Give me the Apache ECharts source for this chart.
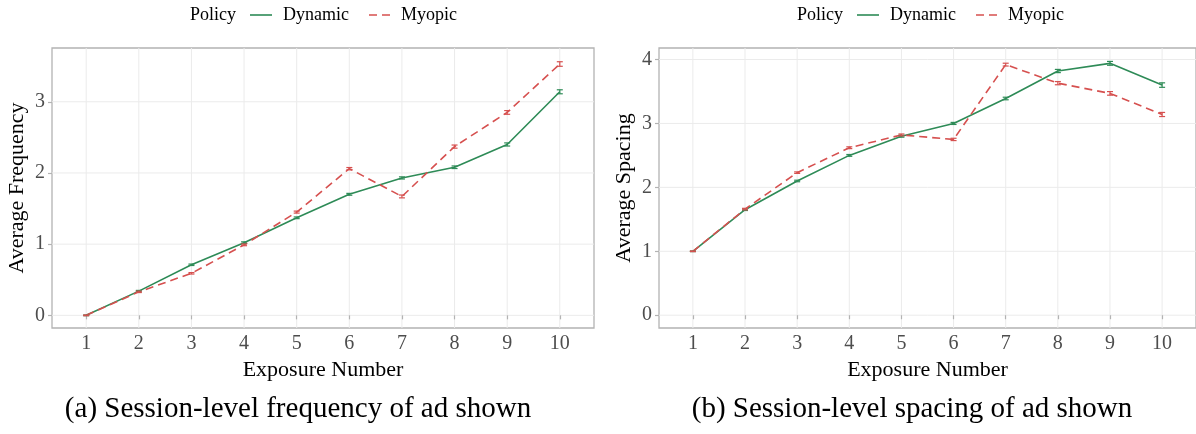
<!DOCTYPE html>
<html><head><meta charset="utf-8">
<script src="https://cdn.jsdelivr.net/npm/echarts@6/dist/echarts.min.js"></script>
<style>html,body{margin:0;padding:0;background:#fff}#c{width:1196px;height:434px}</style>
</head><body><div id="c"></div>
<script>
// ---- data ----
const exposures = [1, 2, 3, 4, 5, 6, 7, 8, 9, 10];
const freqDynamic    = [0, 0.34, 0.71, 1.02, 1.37, 1.70, 1.93, 2.08, 2.40, 3.14];
const freqDynamicErr = [0.005, 0.01, 0.01, 0.012, 0.012, 0.013, 0.015, 0.018, 0.022, 0.028];
const freqMyopic     = [0, 0.33, 0.59, 0.99, 1.45, 2.06, 1.67, 2.37, 2.85, 3.53];
const freqMyopicErr  = [0.005, 0.01, 0.01, 0.012, 0.014, 0.016, 0.02, 0.022, 0.026, 0.032];
const spacDynamic    = [1.0, 1.65, 2.10, 2.50, 2.80, 3.00, 3.39, 3.82, 3.94, 3.60];
const spacDynamicErr = [0.005, 0.012, 0.012, 0.014, 0.015, 0.016, 0.02, 0.025, 0.03, 0.035];
const spacMyopic     = [1.0, 1.66, 2.23, 2.62, 2.82, 2.75, 3.92, 3.63, 3.47, 3.14];
const spacMyopicErr  = [0.005, 0.012, 0.012, 0.014, 0.015, 0.018, 0.022, 0.025, 0.028, 0.032];
const freqTicks = [0, 1, 2, 3];
const spacTicks = [0, 1, 2, 3, 4];
const seriesNames = ['Dynamic', 'Myopic'];
const legendTitle = 'Policy';
const xTitle = 'Exposure Number';
const yTitles = ['Average Frequency', 'Average Spacing'];
const captions = ['(a) Session-level frequency of ad shown', '(b) Session-level spacing of ad shown'];

// ---- style ----
const GREEN = '#2e8b57';
const RED = '#d6504f';
const FONT = 'Liberation Serif';
const GRID_COL = '#ebebeb';
const BORDER_COL = '#b3b3b3';
const DASH = [8, 5];

function errRender(color) {
  return function (params, api) {
    const x = api.value(0), y = api.value(1), e = api.value(2);
    const top = api.coord([x, y + e]);
    const bot = api.coord([x, y - e]);
    const w = 3;
    const style = { stroke: color, lineWidth: 1.2, fill: null };
    return { type: 'group', children: [
      { type: 'line', shape: { x1: top[0], y1: top[1], x2: bot[0], y2: bot[1] }, style: style },
      { type: 'line', shape: { x1: top[0] - w, y1: top[1], x2: top[0] + w, y2: top[1] }, style: style },
      { type: 'line', shape: { x1: bot[0] - w, y1: bot[1], x2: bot[0] + w, y2: bot[1] }, style: style }
    ]};
  };
}
function vGrid(params, api) {
  const cs = params.coordSys;
  const p = api.coord([api.value(0), api.value(1)]);
  return { type: 'line', shape: { x1: p[0], y1: cs.y, x2: p[0], y2: cs.y + cs.height },
           style: { stroke: GRID_COL, lineWidth: 1 } };
}
function hGrid(params, api) {
  const cs = params.coordSys;
  const p = api.coord([api.value(0), api.value(1)]);
  return { type: 'line', shape: { x1: cs.x, y1: p[1], x2: cs.x + cs.width, y2: p[1] },
           style: { stroke: GRID_COL, lineWidth: 1 } };
}

const panels = [
  { dyn: freqDynamic, dynErr: freqDynamicErr, myo: freqMyopic, myoErr: freqMyopicErr, ticks: freqTicks,
    ymin: -0.178, ymax: 3.755 },
  { dyn: spacDynamic, dynErr: spacDynamicErr, myo: spacMyopic, myoErr: spacMyopicErr, ticks: spacTicks,
    ymin: -0.2, ymax: 4.18 }
];

const grids = [
  { left: 52, top: 48, right: 602, bottom: 106, show: true, borderColor: BORDER_COL, borderWidth: 1.3, backgroundColor: '#fff' },
  { left: 659, top: 48, right: -5, bottom: 106, show: true, borderColor: BORDER_COL, borderWidth: 1.3, backgroundColor: '#fff' }
];

const xAxes = [], yAxes = [], series = [];
panels.forEach(function (p, i) {
  xAxes.push({
    type: 'value', gridIndex: i, min: 0.35, max: 10.65,
    name: xTitle, nameLocation: 'middle', nameGap: 26,
    nameTextStyle: { fontFamily: FONT, fontSize: 22, color: '#000' },
    axisLine: { show: false },
    axisTick: { show: true, length: 4, lineStyle: { color: BORDER_COL, width: 1.2 }, customValues: exposures },
    axisLabel: { fontFamily: FONT, fontSize: 20, color: '#4d4d4d', margin: 6, customValues: exposures },
    splitLine: { show: false }
  });
  yAxes.push({
    type: 'value', gridIndex: i, min: p.ymin, max: p.ymax,
    name: yTitles[i], nameLocation: 'middle', nameGap: 24, nameRotate: 90,
    nameTextStyle: { fontFamily: FONT, fontSize: 22, color: '#000' },
    axisLine: { show: false },
    axisTick: { show: true, length: 4, lineStyle: { color: BORDER_COL, width: 1.2 }, customValues: p.ticks },
    axisLabel: { fontFamily: FONT, fontSize: 20, color: '#4d4d4d', margin: 7, customValues: p.ticks },
    splitLine: { show: false }
  });
  series.push({
    type: 'custom', name: 'vgrid' + i, xAxisIndex: i, yAxisIndex: i, silent: true, z: 0,
    renderItem: vGrid, data: exposures.map(function (x) { return [x, 0]; }), clip: false
  });
  series.push({
    type: 'custom', name: 'hgrid' + i, xAxisIndex: i, yAxisIndex: i, silent: true, z: 0,
    renderItem: hGrid, data: p.ticks.map(function (t) { return [1, t]; }), clip: false
  });
  series.push({
    type: 'line', name: seriesNames[0], xAxisIndex: i, yAxisIndex: i, z: 3,
    data: exposures.map(function (x, k) { return [x, p.dyn[k]]; }),
    symbol: 'none', lineStyle: { color: GREEN, width: 1.6 }, itemStyle: { color: GREEN }
  });
  series.push({
    type: 'line', name: seriesNames[1], xAxisIndex: i, yAxisIndex: i, z: 3,
    data: exposures.map(function (x, k) { return [x, p.myo[k]]; }),
    symbol: 'none', lineStyle: { color: RED, width: 1.6, type: DASH }, itemStyle: { color: RED }
  });
  series.push({
    type: 'custom', name: 'errD' + i, xAxisIndex: i, yAxisIndex: i, z: 4, silent: true,
    renderItem: errRender(GREEN), encode: { x: 0, y: 1 },
    data: exposures.map(function (x, k) { return [x, p.dyn[k], p.dynErr[k]]; })
  });
  series.push({
    type: 'custom', name: 'errM' + i, xAxisIndex: i, yAxisIndex: i, z: 4, silent: true,
    renderItem: errRender(RED), encode: { x: 0, y: 1 },
    data: exposures.map(function (x, k) { return [x, p.myo[k], p.myoErr[k]]; })
  });
});

// legend built from graphic elements (text stays real text)
function legendGraphics(x0) {
  const yc = 15;
  const font = '18px ' + FONT;
  return [
    { type: 'text', x: x0, y: yc, style: { text: legendTitle, font: font, fill: '#000', textVerticalAlign: 'middle' } },
    { type: 'line', shape: { x1: x0 + 60, y1: yc, x2: x0 + 82, y2: yc }, style: { stroke: GREEN, lineWidth: 1.6 } },
    { type: 'text', x: x0 + 93, y: yc, style: { text: seriesNames[0], font: font, fill: '#000', textVerticalAlign: 'middle' } },
    { type: 'line', shape: { x1: x0 + 179, y1: yc, x2: x0 + 205, y2: yc }, style: { stroke: RED, lineWidth: 1.6, lineDash: DASH } },
    { type: 'text', x: x0 + 211, y: yc, style: { text: seriesNames[1], font: font, fill: '#000', textVerticalAlign: 'middle' } }
  ];
}

const option = {
  animation: false,
  backgroundColor: '#fff',
  grid: grids,
  xAxis: xAxes,
  yAxis: yAxes,
  graphic: legendGraphics(190).concat(legendGraphics(797)).concat([
    { type: 'text', x: 298, y: 409, style: { text: captions[0], font: '29px ' + FONT, fill: '#000', textAlign: 'center', textVerticalAlign: 'middle' } },
    { type: 'text', x: 912, y: 409, style: { text: captions[1], font: '29px ' + FONT, fill: '#000', textAlign: 'center', textVerticalAlign: 'middle' } }
  ]),
  series: series
};

const chart = echarts.init(document.getElementById('c'), null, { renderer: 'canvas' });
chart.setOption(option);
</script>
</body></html>
